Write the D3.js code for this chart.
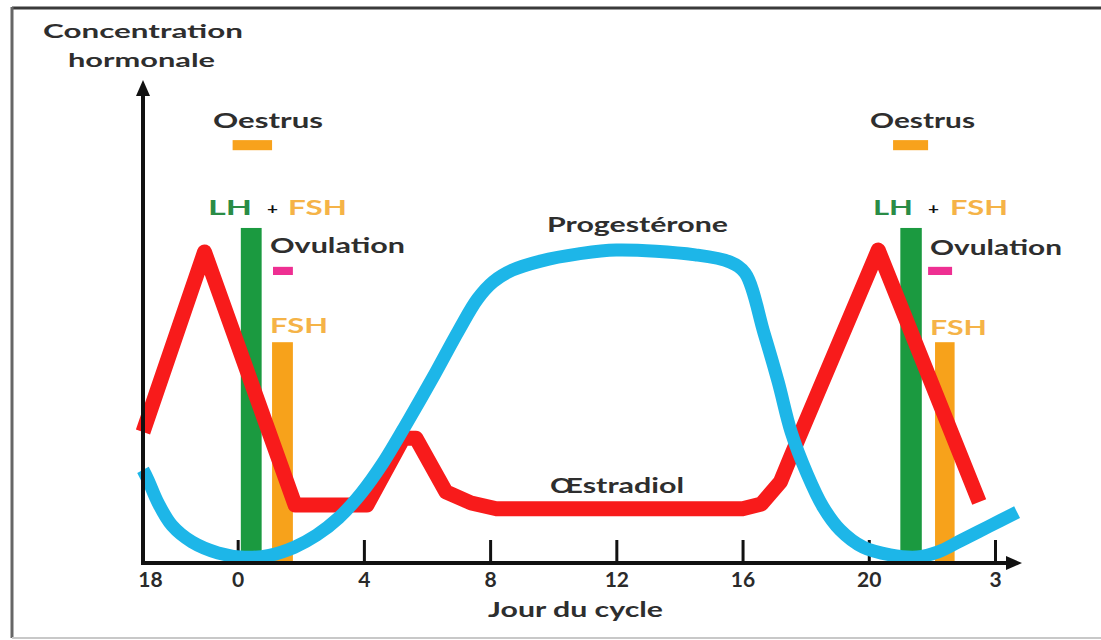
<!DOCTYPE html>
<html>
<head>
<meta charset="utf-8">
<script src="https://cdn.jsdelivr.net/npm/d3@7"></script>
<style>
  body { margin: 0; background: #fff; }
  text { font-family: Lato, "Open Sans", sans-serif; font-weight: 700; }
</style>
</head>
<body>
<script>
// day of cycle (21 day cycle, day -3 = day 18 of the previous one)
var tickDays = [-3, 0, 4, 8, 12, 16, 20, 24];
var tickLabels = ["18", "0", "4", "8", "12", "16", "20", "3"];

// oestradiol (red)
var estradiolDays   = [-3, -1.05, 1.82, 4.1, 5.25, 5.65, 6.6, 7.4, 8.2, 16.0, 16.6, 17.2, 17.55, 20.3, 23.5];
var estradiolValues = [27.3, 64.8, 12.1, 12.1, 26.0, 26.0, 14.8, 12.5, 11.3, 11.3, 12.3, 16.9, 22.5, 65.2, 12.7];

// progesterone (blue)
var progesteroneDays   = [-3, -2.84, -2.52, -2.08, -1.45, -0.62, 0.2, 1.0, 1.8, 2.5, 3.2, 3.9, 4.6, 5.4, 6.2, 7.0, 7.6, 8.1, 8.7, 9.6, 10.8, 12, 14.5, 15.6, 16.08, 16.68, 17.13, 17.54, 18.05, 18.55, 19.09, 19.82, 20.68, 21.53, 22.2, 22.9, 23.8, 24.7];
var progesteroneValues = [19.4, 17.3, 12.5, 7.8, 4.4, 2.1, 1.2, 1.6, 3.3, 5.8, 9.4, 14.4, 20.8, 29.6, 38.8, 48.4, 55, 58.6, 61, 62.9, 64.4, 65.2, 64.2, 62.7, 60.4, 47.9, 37.7, 27.3, 18.5, 11.7, 6.9, 3.3, 1.7, 1.25, 2.3, 4.6, 7.6, 10.6];

// LH + FSH peak, FSH peak (start day, end day)
var lhBars = [[0.1, 0.76], [21.0, 21.68]];
var lhLevel = 69.8;
var fshBars = [[1.09, 1.75], [22.1, 22.72]];
var fshLevel = 46;

// oestrus and ovulation periods
var oestrusSpans = [[-0.16, 1.09], [20.77, 21.88]];
var ovulationSpans = [[1.12, 1.75], [21.88, 22.64]];

var w = 1101, h = 640;

var svg = d3.select("body").append("svg")
    .attr("width", w)
    .attr("height", h);

var x = d3.scaleLinear().domain([-3, 24]).range([143, 995]);
var y = d3.scaleLinear().domain([0, 100]).range([563, 83]);

//frame
svg.append("line").attr("x1", 12).attr("x2", w).attr("y1", 8).attr("y2", 8)
    .style("stroke", "#3a3a3a").style("stroke-width", 3);
svg.append("line").attr("x1", 12).attr("x2", 12).attr("y1", 7).attr("y2", 638)
    .style("stroke", "#666").style("stroke-width", 3);
svg.append("line").attr("x1", 12).attr("x2", w).attr("y1", 638).attr("y2", 638)
    .style("stroke", "#c8c8c8").style("stroke-width", 2);

//bars
svg.selectAll(".lh").data(lhBars).enter().append("rect")
    .attr("class", "lh")
    .attr("x", function(d){ return x(d[0]); })
    .attr("width", function(d){ return x(d[1]) - x(d[0]); })
    .attr("y", y(lhLevel))
    .attr("height", y(0) - y(lhLevel))
    .style("fill", "#1b9a40");

svg.selectAll(".fsh").data(fshBars).enter().append("rect")
    .attr("class", "fsh")
    .attr("x", function(d){ return x(d[0]); })
    .attr("width", function(d){ return x(d[1]) - x(d[0]); })
    .attr("y", y(fshLevel))
    .attr("height", y(0) - y(fshLevel))
    .style("fill", "#f7a21b");

svg.selectAll(".oestrus").data(oestrusSpans).enter().append("rect")
    .attr("x", function(d){ return x(d[0]); })
    .attr("width", function(d){ return x(d[1]) - x(d[0]); })
    .attr("y", y(88.1))
    .attr("height", y(86) - y(88.1))
    .style("fill", "#f8a21c");

svg.selectAll(".ovul").data(ovulationSpans).enter().append("rect")
    .attr("x", function(d){ return x(d[0]); })
    .attr("width", function(d){ return x(d[1]) - x(d[0]); })
    .attr("y", y(61.7))
    .attr("height", y(60) - y(61.7))
    .style("fill", "#ee2f92");

//curves
var red = estradiolDays.map(function(d, i){ return [d, estradiolValues[i]]; });
var blue = progesteroneDays.map(function(d, i){ return [d, progesteroneValues[i]]; });

var lineRed = d3.line()
    .x(function(d){ return x(d[0]); })
    .y(function(d){ return y(d[1]); });
var lineBlue = d3.line()
    .curve(d3.curveCatmullRom.alpha(0.5))
    .x(function(d){ return x(d[0]); })
    .y(function(d){ return y(d[1]); });

svg.append("path").datum(red)
    .attr("d", lineRed)
    .style("fill", "none")
    .style("stroke", "#f81b1b")
    .style("stroke-width", 15)
    .style("stroke-linejoin", "round");

//axes
var xAxis = d3.axisBottom(x)
    .tickValues(tickDays)
    .tickFormat(function(d, i){ return tickLabels[i]; })
    .tickSizeInner(-23)
    .tickSizeOuter(0)
    .tickPadding(9);

var gx = svg.append("g")
    .attr("transform", "translate(0," + y(0) + ")")
    .call(xAxis);
gx.select(".domain").remove();
gx.selectAll(".tick line").style("stroke", "#111").style("stroke-width", 3);
gx.selectAll(".tick text")
    .style("font-size", "21px")
    .style("fill", "#2a2a2a")
    .attr("font-family", "Lato, sans-serif")
    .attr("dx", function(d, i){ return i === 0 ? 7 : 0; });

svg.append("path").datum(blue)
    .attr("d", lineBlue)
    .style("fill", "none")
    .style("stroke", "#1db6e8")
    .style("stroke-width", 13);

svg.append("line")
    .attr("x1", x(-3)).attr("x2", 1008)
    .attr("y1", y(0)).attr("y2", y(0))
    .style("stroke", "#111").style("stroke-width", 4);
svg.append("path")
    .attr("d", "M1022," + y(0) + "L1006," + (y(0) - 7) + "L1006," + (y(0) + 7) + "Z")
    .style("fill", "#111");

svg.append("line")
    .attr("x1", x(-3)).attr("x2", x(-3))
    .attr("y1", y(0) + 2).attr("y2", 94)
    .style("stroke", "#111").style("stroke-width", 4);
svg.append("path")
    .attr("d", "M" + x(-3) + ",80L" + (x(-3) - 7) + ",96L" + (x(-3) + 7) + ",96Z")
    .style("fill", "#111");

//labels
var dark = "#2e2e2e", green = "#2a8c46", orange = "#f5b347";
var labels = [
    {t: "Concentration", x: 43, y: 38, w: 200, s: 19, c: dark},
    {t: "hormonale", x: 68, y: 67, w: 147, s: 19, c: dark},
    {t: "Oestrus", x: 213, y: 128, w: 110, s: 20, c: dark},
    {t: "Oestrus", x: 870, y: 128, w: 105, s: 20, c: dark},
    {t: "LH", x: 208, y: 215, w: 44, s: 20, c: green},
    {t: "+", x: 267, y: 214, w: 11, s: 16, c: "#111"},
    {t: "FSH", x: 288, y: 215, w: 59, s: 20, c: orange},
    {t: "LH", x: 873, y: 215, w: 40, s: 20, c: green},
    {t: "+", x: 928, y: 214, w: 11, s: 16, c: "#111"},
    {t: "FSH", x: 950, y: 215, w: 58, s: 20, c: orange},
    {t: "Ovulation", x: 270, y: 253, w: 135, s: 20, c: dark},
    {t: "Ovulation", x: 930, y: 255, w: 132, s: 20, c: dark},
    {t: "FSH", x: 270, y: 333, w: 58, s: 20, c: orange},
    {t: "FSH", x: 930, y: 335, w: 57, s: 20, c: orange},
    {t: "Progestérone", x: 547, y: 232, w: 181, s: 20, c: dark},
    {t: "Œstradiol", x: 550, y: 493, w: 134, s: 20, c: dark},
    {t: "Jour du cycle", x: 488, y: 617, w: 175, s: 21, c: dark}
];

svg.selectAll(".lbl").data(labels).enter().append("text")
    .attr("class", "lbl")
    .attr("x", function(d){ return d.x; })
    .attr("y", function(d){ return d.y; })
    .attr("textLength", function(d){ return d.w; })
    .attr("lengthAdjust", "spacingAndGlyphs")
    .style("font-size", function(d){ return d.s + "px"; })
    .style("fill", function(d){ return d.c; })
    .text(function(d){ return d.t; });
</script>
</body>
</html>
